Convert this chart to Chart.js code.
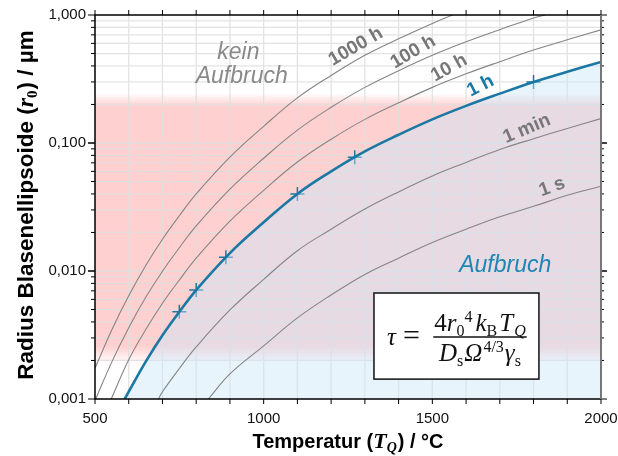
<!DOCTYPE html>
<html>
<head>
<meta charset="utf-8">
<script src="https://cdn.jsdelivr.net/npm/chart.js@4.4.1/dist/chart.umd.min.js"></script>
<style>
  html, body { margin: 0; padding: 0; background: #fff; }
</style>
</head>
<body>
<canvas id="chart" width="618" height="456"></canvas>
<script>
// values (temperature in °C, radius in µm)
const temps1s = [836, 900, 1000, 1100, 1200, 1300, 1400, 1500, 1600, 1700, 1800, 1900, 2000];
const radius1s = [0.001, 0.00157, 0.0026, 0.0043, 0.0065, 0.0094, 0.0126, 0.0167, 0.0212, 0.0265, 0.032, 0.039, 0.046];

const temps1min = [688, 700, 750, 800, 900, 1000, 1100, 1200, 1300, 1400, 1500, 1600, 1700, 1800, 1900, 2000];
const radius1min = [0.001, 0.00114, 0.00173, 0.00255, 0.00496, 0.0086, 0.0144, 0.0212, 0.0305, 0.0415, 0.0553, 0.0705, 0.089, 0.108, 0.13, 0.155];

const temps1h = [588, 600, 650, 700, 750, 800, 900, 1000, 1100, 1200, 1300, 1400, 1500, 1600, 1700, 1800, 1900, 2000];
const radius1h = [0.001, 0.00114, 0.00195, 0.00315, 0.0048, 0.0071, 0.0138, 0.024, 0.040, 0.060, 0.086, 0.116, 0.153, 0.195, 0.243, 0.30, 0.36, 0.43];

const temps10h = [548, 600, 650, 700, 750, 800, 900, 1000, 1100, 1200, 1300, 1400, 1500, 1600, 1700, 1800, 1900, 2000];
const radius10h = [0.001, 0.00203, 0.00347, 0.0056, 0.0085, 0.0126, 0.0245, 0.0427, 0.071, 0.107, 0.153, 0.206, 0.272, 0.347, 0.432, 0.533, 0.64, 0.765];

const temps100h = [502, 550, 600, 650, 700, 750, 800, 900, 1000, 1100, 1200, 1300, 1400, 1500, 1600, 1700, 1800, 1835];
const radius100h = [0.001, 0.00195, 0.0036, 0.0062, 0.00996, 0.0152, 0.0225, 0.0436, 0.076, 0.126, 0.19, 0.272, 0.367, 0.484, 0.617, 0.768, 0.949, 1.0];

const temps1000h = [500, 550, 600, 650, 700, 750, 800, 900, 1000, 1100, 1200, 1300, 1400, 1500, 1560];
const radius1000h = [0.00174, 0.00348, 0.0064, 0.011, 0.0177, 0.027, 0.040, 0.0776, 0.135, 0.225, 0.337, 0.484, 0.652, 0.86, 1.0];

// measured points on the 1 h curve
const markerTemps = [750, 800, 888, 1100, 1270, 1800];
const markerRadius = [0.0048, 0.0071, 0.0128, 0.040, 0.0773, 0.30];

const xTickValues = [500, 1000, 1500, 2000];
const yTickValues = [0.001, 0.01, 0.1, 1];
const decades = [0.001, 0.01, 0.1];

// pink band (radius range) with soft edges
const bandFadeTop = 0.246, bandTop = 0.192, bandBottom = 0.00258, bandFadeBottom = 0.00189;

const gray = '#858585';
const grayText = '#777';
const blue = '#1b77a3';
const sans = '"Liberation Sans", Arial, sans-serif';
const serif = '"Liberation Serif", "DejaVu Serif", serif';

const curveLabels = [
  { text: '1000 h', t: 1273, r: 0.565, angle: -30, color: grayText },
  { text: '100 h', t: 1443, r: 0.514, angle: -30, color: grayText },
  { text: '10 h', t: 1550, r: 0.385, angle: -29, color: grayText },
  { text: '1 h', t: 1643, r: 0.279, angle: -27, color: blue },
  { text: '1 min', t: 1780, r: 0.129, angle: -23, color: grayText },
  { text: '1 s', t: 1855, r: 0.0453, angle: -20, color: grayText }
];

const formulaBox = { t0: 1327, t1: 1816, r0: 0.00673, r1: 0.00143 };

function pts(ts, rs) {
  return ts.map((t, i) => ({ x: t, y: rs[i] }));
}

function grayLine(label, ts, rs) {
  return {
    label: label,
    data: pts(ts, rs),
    borderColor: gray,
    borderWidth: 1.1,
    pointRadius: 0,
    fill: false,
    tension: 0.4
  };
}

// draws text made of parts [text, font, dy, extraGap]; align 'center' or 'left'
function drawRich(ctx, parts, x0, baseline, align) {
  let w = 0;
  parts.forEach(p => { ctx.font = p[1]; w += ctx.measureText(p[0]).width + (p[3] || 0); });
  let x = align === 'left' ? x0 : x0 - w / 2;
  ctx.textAlign = 'left';
  ctx.textBaseline = 'alphabetic';
  parts.forEach(p => {
    ctx.font = p[1];
    ctx.fillText(p[0], x, baseline + (p[2] || 0));
    x += ctx.measureText(p[0]).width + (p[3] || 0);
  });
  return w;
}

const overlay = {
  id: 'overlay',
  beforeDraw(chart) {
    const { ctx, chartArea: a, scales: { y } } = chart;
    const y0 = y.getPixelForValue(bandFadeTop);
    const y1 = y.getPixelForValue(bandTop);
    const y2 = y.getPixelForValue(bandBottom);
    const y3 = y.getPixelForValue(bandFadeBottom);
    const span = y3 - y0;
    const g = ctx.createLinearGradient(0, y0, 0, y3);
    g.addColorStop(0, 'rgba(255,208,208,0)');
    g.addColorStop((y1 - y0) / span, 'rgba(255,208,208,1)');
    g.addColorStop((y2 - y0) / span, 'rgba(255,208,208,1)');
    g.addColorStop(1, 'rgba(255,208,208,0)');
    ctx.save();
    ctx.fillStyle = g;
    ctx.fillRect(a.left, y0, a.right - a.left, span);
    ctx.restore();
  },
  beforeDatasetsDraw(chart) {
    const { ctx, chartArea: a, scales: { x, y } } = chart;
    ctx.save();
    ctx.strokeStyle = 'rgba(222,222,222,0.85)';
    ctx.lineWidth = 1.3;
    ctx.beginPath();
    for (let t = 600; t < 2000; t += 100) {
      const px = x.getPixelForValue(t);
      ctx.moveTo(px, a.top);
      ctx.lineTo(px, a.bottom);
    }
    decades.forEach(d => {
      for (let m = 1; m <= 9; m++) {
        const v = d * m;
        if (v <= 0.001) continue;
        const py = y.getPixelForValue(v);
        ctx.moveTo(a.left, py);
        ctx.lineTo(a.right, py);
      }
    });
    ctx.stroke();
    ctx.restore();
  },
  afterDraw(chart) {
    const { ctx, chartArea: a, scales: { x, y } } = chart;
    ctx.save();

    // tick marks
    ctx.strokeStyle = '#000';
    ctx.lineWidth = 1;
    ctx.beginPath();
    for (let t = 500; t <= 2000; t += 100) {
      const px = x.getPixelForValue(t);
      ctx.moveTo(px, a.bottom);
      ctx.lineTo(px, a.bottom + 5);
      ctx.moveTo(px, a.top);
      ctx.lineTo(px, a.top - 5);
    }
    decades.forEach(d => {
      for (let m = 1; m <= 10; m++) {
        const py = y.getPixelForValue(d * m);
        const len = (m === 1 || m === 10) ? 7 : 4;
        ctx.moveTo(a.left, py);
        ctx.lineTo(a.left - len, py);
        ctx.moveTo(a.right, py);
        ctx.lineTo(a.right + len - 1, py);
      }
    });
    ctx.stroke();

    // frame
    ctx.lineWidth = 1.5;
    ctx.strokeStyle = '#000';
    ctx.beginPath();
    ctx.moveTo(a.right, a.top);
    ctx.lineTo(a.left, a.top);
    ctx.lineTo(a.left, a.bottom);
    ctx.lineTo(a.right, a.bottom);
    ctx.stroke();
    ctx.strokeStyle = '#777';
    ctx.lineWidth = 2;
    ctx.beginPath();
    ctx.moveTo(a.right, a.top);
    ctx.lineTo(a.right, a.bottom);
    ctx.stroke();

    // curve labels
    curveLabels.forEach(l => {
      ctx.save();
      ctx.translate(x.getPixelForValue(l.t), y.getPixelForValue(l.r));
      ctx.rotate(l.angle * Math.PI / 180);
      ctx.font = 'bold 19px ' + sans;
      ctx.fillStyle = l.color;
      ctx.textAlign = 'center';
      ctx.textBaseline = 'middle';
      ctx.fillText(l.text, 0, 0);
      ctx.restore();
    });

    // region labels
    ctx.font = 'italic 23px ' + sans;
    ctx.textAlign = 'center';
    ctx.textBaseline = 'middle';
    ctx.fillStyle = '#8a8a8a';
    ctx.fillText('kein', x.getPixelForValue(925), y.getPixelForValue(0.505));
    ctx.fillText('Aufbruch', x.getPixelForValue(935), y.getPixelForValue(0.333));
    ctx.fillStyle = '#1f86b3';
    ctx.fillText('Aufbruch', x.getPixelForValue(1716), y.getPixelForValue(0.0111));

    // formula box
    const bx0 = x.getPixelForValue(formulaBox.t0), bx1 = x.getPixelForValue(formulaBox.t1);
    const by0 = y.getPixelForValue(formulaBox.r0), by1 = y.getPixelForValue(formulaBox.r1);
    ctx.fillStyle = '#fff';
    ctx.fillRect(bx0, by0, bx1 - bx0, by1 - by0);
    ctx.strokeStyle = '#111';
    ctx.lineWidth = 1.5;
    ctx.strokeRect(bx0, by0, bx1 - bx0, by1 - by0);

    ctx.fillStyle = '#111';
    const big = 25, small = 16;
    const it = 'italic ' + big + 'px ' + serif;
    const up = big + 'px ' + serif;
    const sub = small + 'px ' + serif;
    const subIt = 'italic ' + small + 'px ' + serif;
    drawRich(ctx, [['τ', it, 0, 7], ['=', '30px ' + serif]], bx0 + 13, by0 + 52, 'left');
    const fx = bx0 + 106;
    const nw = drawRich(ctx, [
      ['4', up], ['r', it], ['0', sub, 5], ['4', sub, -9, 3], ['k', it], ['B', sub, 5, 2],
      ['T', it, 0, 1], ['Q', subIt, 5]
    ], fx, by0 + 38);
    drawRich(ctx, [
      ['D', it], ['s', sub, 5, 1], ['Ω', it, 0, 1], ['4/3', sub, -9, 1], ['γ', it], ['s', sub, 5]
    ], fx, by0 + 68);
    ctx.lineWidth = 1.5;
    ctx.beginPath();
    ctx.moveTo(fx - nw / 2 - 1, by0 + 44);
    ctx.lineTo(fx + nw / 2 + 1, by0 + 44);
    ctx.stroke();

    // axis titles
    ctx.fillStyle = '#000';
    drawRich(ctx, [
      ['Temperatur (', 'bold 20px ' + sans],
      ['T', 'bold italic 22px ' + serif],
      ['Q', 'bold italic 14px ' + serif, 4, 1],
      [') / °C', 'bold 20px ' + sans]
    ], (a.left + a.right) / 2, 448);
    ctx.save();
    ctx.translate(33, (a.top + a.bottom) / 2 - 2);
    ctx.rotate(-Math.PI / 2);
    drawRich(ctx, [
      ['Radius Blasenellipsoide (', 'bold 22.5px ' + sans],
      ['r', 'bold italic 24px ' + serif],
      ['0', 'bold 15px ' + serif, 4, 1],
      [') / µm', 'bold 22.5px ' + sans]
    ], 0, 0);
    ctx.restore();

    ctx.restore();
  }
};

const ctx = document.getElementById('chart').getContext('2d');

const chart = new Chart(ctx, {
  type: 'line',
  data: {
    datasets: [
      grayLine('1 s', temps1s, radius1s),
      grayLine('1 min', temps1min, radius1min),
      grayLine('10 h', temps10h, radius10h),
      grayLine('100 h', temps100h, radius100h),
      grayLine('1000 h', temps1000h, radius1000h),
      {
        label: '1 h',
        data: pts(temps1h, radius1h),
        borderColor: blue,
        borderWidth: 2.6,
        pointRadius: 0,
        fill: 'start',
        backgroundColor: 'rgba(204,230,248,0.45)',
        tension: 0.4
      },
      {
        label: 'Messpunkte',
        data: pts(markerTemps, markerRadius),
        showLine: false,
        pointStyle: 'cross',
        pointRadius: 7,
        pointBorderWidth: 1.5,
        pointBorderColor: blue,
        pointBackgroundColor: blue,
        fill: false
      }
    ]
  },
  options: {
    responsive: false,
    animation: false,
    layout: { padding: { top: 15, right: 17, left: 0, bottom: 0 } },
    plugins: {
      legend: { display: false },
      tooltip: { enabled: false }
    },
    scales: {
      x: {
        type: 'linear',
        min: 500,
        max: 2000,
        afterBuildTicks: s => { s.ticks = xTickValues.map(v => ({ value: v })); },
        afterFit: s => { s.height = 57; s.paddingLeft = 0; s.paddingRight = 0; },
        grid: { display: false, drawTicks: false },
        border: { display: false },
        ticks: {
          padding: 11,
          autoSkip: false,
          maxRotation: 0,
          color: '#111',
          font: { family: sans, size: 15 },
          callback: v => String(v)
        }
      },
      y: {
        type: 'logarithmic',
        min: 0.001,
        max: 1,
        afterBuildTicks: s => { s.ticks = yTickValues.map(v => ({ value: v })); },
        afterFit: s => { s.width = 95; s.paddingTop = 0; s.paddingBottom = 0; },
        grid: { display: false, drawTicks: false },
        border: { display: false },
        ticks: {
          padding: 9,
          autoSkip: false,
          color: '#111',
          font: { family: sans, size: 15 },
          callback: v => v.toFixed(3).replace('.', ',')
        }
      }
    }
  },
  plugins: [overlay]
});
</script>
</body>
</html>
